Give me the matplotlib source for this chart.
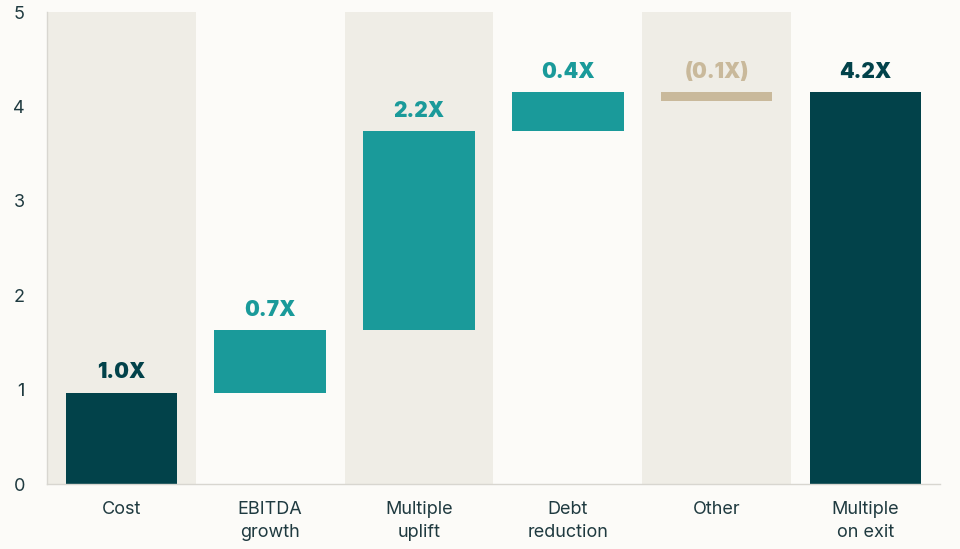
import numpy as np
import matplotlib
matplotlib.use("Agg")
from matplotlib import pyplot as plt

categories = ["Cost", "EBITDA\ngrowth", "Multiple\nuplift", "Debt\nreduction", "Other", "Multiple\non exit"]
bottoms = [0, 0.97, 1.63, 3.74, 4.06, 0]
heights = [0.97, 0.66, 2.11, 0.41, 0.09, 4.15]
labels = ["1.0X", "0.7X", "2.2X", "0.4X", "(0.1X)", "4.2X"]

bg = "#fcfbf8"
band = "#efede6"
dark = "#02424a"
teal = "#1a9a9a"
beige = "#c9b99b"
bar_colors = [dark, teal, teal, teal, beige, dark]
label_colors = [dark, teal, teal, teal, beige, dark]

plt.rcParams["font.family"] = ["Inter", "DejaVu Sans"]

fig = plt.figure(figsize=(9.6, 5.49), dpi=100, facecolor=bg)
ax = fig.add_axes([0.049, 0.118, 0.93, 0.86], facecolor=bg)

x = np.arange(len(categories))
for i in x:
    if i % 2 == 0:
        ax.axvspan(i - 0.5, i + 0.5, color=band, lw=0, zorder=0)

ax.bar(x, heights, bottom=bottoms, width=0.75, color=bar_colors, zorder=2)
for i in x:
    top = bottoms[i] + heights[i]
    ax.text(i, top + 0.11, labels[i], ha="center", va="bottom", fontsize=15,
            fontweight="black", color=label_colors[i], zorder=3)

ax.set_xlim(-0.5, 5.5)
ax.set_ylim(0, 5)
ax.set_xticks(x)
ax.set_xticklabels(categories, fontsize=13, color="#1f3a40", linespacing=1.45)
ax.set_yticks(range(6))
ax.tick_params(axis="both", length=0, labelsize=13, labelcolor="#1f3a40")
ax.tick_params(axis="x", pad=12)
ax.tick_params(axis="y", pad=16)
for s in ["top", "right"]:
    ax.spines[s].set_visible(False)
for s in ["left", "bottom"]:
    ax.spines[s].set_color("#d8d6d0")
    ax.spines[s].set_linewidth(1)

fig.savefig("out.png", dpi=100, facecolor=bg)
